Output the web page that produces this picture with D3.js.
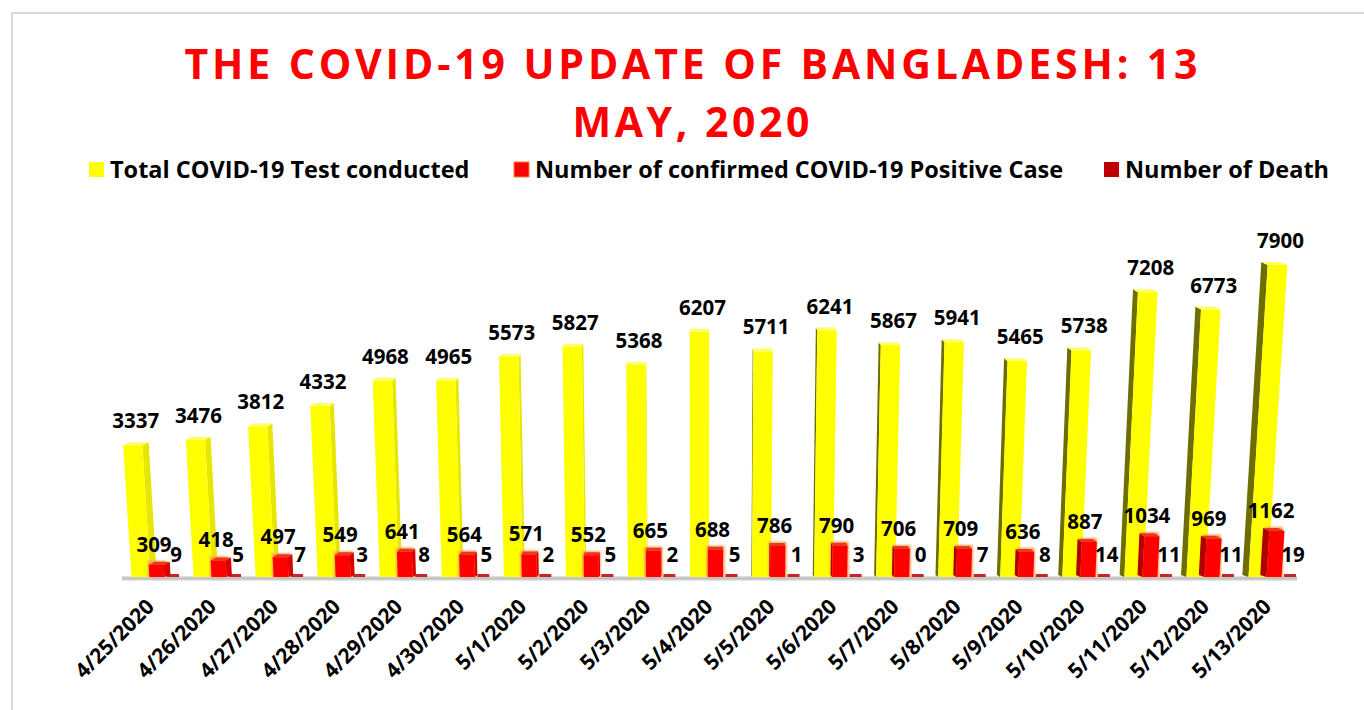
<!DOCTYPE html>
<html>
<head>
<meta charset="utf-8">
<script src="https://cdn.jsdelivr.net/npm/d3@7"></script>
<style>
  html, body { margin: 0; padding: 0; background: #fff; }
  svg { display: block; }
  text { font-family: "Open Sans", Lato, sans-serif; font-weight: bold; }
</style>
</head>
<body>
<svg id="chart" width="1364" height="710"></svg>
<script>
// data
const dates = ['4/25/2020', '4/26/2020', '4/27/2020', '4/28/2020', '4/29/2020', '4/30/2020',
  '5/1/2020', '5/2/2020', '5/3/2020', '5/4/2020', '5/5/2020', '5/6/2020', '5/7/2020',
  '5/8/2020', '5/9/2020', '5/10/2020', '5/11/2020', '5/12/2020', '5/13/2020'];
const tests = [3337, 3476, 3812, 4332, 4968, 4965, 5573, 5827, 5368, 6207, 5711, 6241,
  5867, 5941, 5465, 5738, 7208, 6773, 7900];
const positives = [309, 418, 497, 549, 641, 564, 571, 552, 665, 688, 786, 790, 706, 709,
  636, 887, 1034, 969, 1162];
const deaths = [9, 5, 7, 3, 8, 5, 2, 5, 2, 5, 1, 3, 0, 7, 8, 14, 11, 11, 19];
const seriesNames = ['Total COVID-19 Test conducted', 'Number of confirmed COVID-19 Positive Case', 'Number of Death'];
const seriesColors = ['#ffff00', '#ff0000', '#c00000'];

const svg = d3.select('#chart');
const W = 1364, H = 710;
const base = 577;      // floor line
const cx0 = 700;       // perspective centre
const K = 1.12e-4;     // how far tops spread out

const x = d3.scalePoint().domain(dates).range([141, 1258]);
const y = d3.scaleLinear().domain([0, 7900]).range([base, 265]);

// projected x of a point at height h (px above floor)
const px = (xx, h) => xx + (xx - cx0) * K * h;

// outer border
svg.append('rect').attr('x', 12).attr('y', 13).attr('width', W).attr('height', H)
  .attr('fill', 'none').attr('stroke', '#d9d9d9').attr('stroke-width', 2);

// title, spaced out to the width it has in the picture
const titleLines = [['THE COVID-19 UPDATE OF BANGLADESH: 13', 79], ['MAY, 2020', 137]];
titleLines.forEach(([t, ty]) => {
  const el = svg.append('text').attr('text-anchor', 'middle').attr('fill', '#ff0000')
    .attr('font-size', 41).attr('x', 691).attr('y', ty).text(t);
  const w0 = el.node().getComputedTextLength();
  const target = ty < 100 ? 1013 : 237;
  const ls = (target - w0) / (t.length - 1);
  el.style('letter-spacing', ls + 'px').attr('x', 691 + ls / 2);
});

// legend
const legX = [89, 514, 1104];
const leg = svg.append('g');
seriesNames.forEach((name, i) => {
  leg.append('rect').attr('x', legX[i]).attr('y', 162).attr('width', 15).attr('height', 15)
    .attr('fill', seriesColors[i]).attr('stroke', i === 1 ? '#f08040' : 'none');
  leg.append('text').attr('x', legX[i] + 21).attr('y', 178).attr('font-size', 23.5)
    .attr('fill', '#000').text(name);
});

const defs = svg.append('defs');
const fg = defs.append('linearGradient').attr('id', 'floor').attr('x1', 0).attr('x2', 0).attr('y1', 0).attr('y2', 1);
fg.append('stop').attr('offset', 0).attr('stop-color', '#e6e6e6');
fg.append('stop').attr('offset', 0.5).attr('stop-color', '#bdbdbd');
fg.append('stop').attr('offset', 1).attr('stop-color', '#eeeeee');
defs.append('filter').attr('id', 'glow').attr('x', '-50%').attr('y', '-50%').attr('width', '200%').attr('height', '200%')
  .append('feGaussianBlur').attr('stdDeviation', 1.3);

// floor shadow
svg.append('rect').attr('x', 122).attr('y', base - 1).attr('width', 1175).attr('height', 5)
  .attr('fill', 'url(#floor)');

const g = svg.append('g');
const poly = pts => pts.map(p => p.join(',')).join(' ');

// one 3D-ish column: front face + side face + top face
function column(xc, hgt, w, front, sideLit, sideDark, top) {
  const l = xc - w / 2, r = xc + w / 2;
  const dx = xc - cx0;
  const sw = Math.abs(dx) * 0.011;
  const fr = [[l, base], [r, base], [px(r, hgt), base - hgt], [px(l, hgt), base - hgt]];
  let side;
  if (dx < 0) {
    side = [[r, base], [r + sw, base - 2], [px(r + sw, hgt), base - hgt - 3], [px(r, hgt), base - hgt]];
  } else {
    side = [[l, base], [l - sw, base - 2], [px(l - sw, hgt), base - hgt - 3], [px(l, hgt), base - hgt]];
  }
  const tp = dx < 0
    ? [[px(l, hgt), base - hgt], [px(r, hgt), base - hgt], [px(r + sw, hgt), base - hgt - 3], [px(l + sw, hgt), base - hgt - 3]]
    : [[px(l, hgt), base - hgt], [px(r, hgt), base - hgt], [px(r - sw, hgt), base - hgt - 3], [px(l - sw, hgt), base - hgt - 3]];
  g.append('polygon').attr('points', poly(side)).attr('fill', dx < 0 ? sideLit : sideDark);
  g.append('polygon').attr('points', poly(tp)).attr('fill', top);
  g.append('polygon').attr('points', poly(fr)).attr('fill', front);
}

dates.forEach((d, i) => {
  const xc = x(d);
  // tests
  const ht = base - y(tests[i]);
  column(xc, ht, 19, '#ffff00', '#e6e600', '#6e6e00', '#ffff66');
  // positive cases
  const hp = base - y(positives[i]);
  const xr = xc + 16;
  g.append('rect').attr('x', xr - 9).attr('y', base - hp - 4).attr('width', 18).attr('height', hp + 4)
    .attr('fill', '#ff9a50').attr('filter', 'url(#glow)');
  column(xr, hp, 15, '#ff0000', '#d80000', '#b00000', '#e83a1a');
  // deaths
  const hd = Math.max(2, base - y(deaths[i]));
  const xd = xc + 32;
  g.append('rect').attr('x', xd - 6).attr('y', base - hd - 1).attr('width', 12).attr('height', hd + 1)
    .attr('fill', '#c00000').attr('opacity', 0.85);
});

// value labels
const lab = svg.append('g').attr('font-size', 20.5).attr('fill', '#000').attr('text-anchor', 'middle');
dates.forEach((d, i) => {
  const xc = x(d);
  const ht = base - y(tests[i]);
  lab.append('text').attr('x', px(xc, ht) + 3).attr('y', base - ht - 17).text(tests[i]);
  const hp = base - y(positives[i]);
  lab.append('text').attr('x', xc + 13).attr('y', base - hp - 13).text(positives[i]);
  lab.append('text').attr('x', xc + 35).attr('y', 562).text(deaths[i]);
});

// x axis labels, rotated
const ax = svg.append('g');
const axis = d3.axisBottom(x).tickSize(0).tickPadding(0);
ax.attr('transform', `translate(14,${base + 31})`).call(axis);
ax.select('.domain').remove();
ax.selectAll('text')
  .attr('font-size', 21).attr('fill', '#000')
  .attr('text-anchor', 'end')
  .attr('dy', 0)
  .attr('transform', 'rotate(-45)')
  .style('font-family', '"Open Sans", Lato, sans-serif').style('font-weight', 'bold');
</script>
</body>
</html>
